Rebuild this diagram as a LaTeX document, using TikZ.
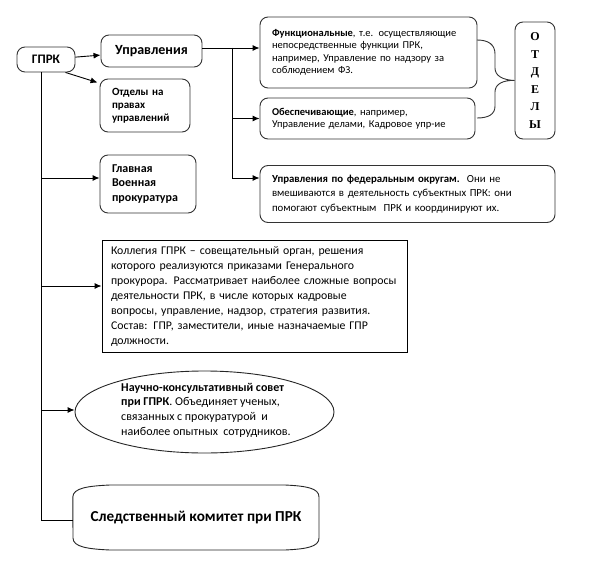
\documentclass[tikz,border=0pt]{standalone}
\usepackage{fontspec}
\setmainfont{Carlito}
\newfontfamily\serifbold{Liberation Serif}
\usetikzlibrary{shapes.geometric,arrows.meta}
\begin{document}
\begin{tikzpicture}[x=1pt,y=-1pt,
  box/.style={draw=black!80, rounded corners=8pt, line width=0.9pt, inner ysep=0pt, align=left},
  sqbox/.style={draw=black, line width=0.9pt, inner ysep=0pt, align=left},
  arr/.style={-{Latex[length=7pt,width=6pt]}, line width=0.9pt},
  ln/.style={line width=0.9pt},
  small/.style={font=\fontsize{10.5}{12.5}\selectfont},
  mid/.style={font=\fontsize{11.8}{15}\selectfont}]
\useasboundingbox[fill=white] (0,0) rectangle (602,583);

% top level
\node[box, minimum width=58pt, minimum height=25pt, inner xsep=0pt, align=center,
      font=\bfseries\fontsize{13}{14}\selectfont] (gprk) at (46,59.5) {ГПРК};
\node[box, minimum width=101pt, minimum height=32pt, inner xsep=0pt, align=center,
      font=\bfseries\fontsize{14}{15}\selectfont] (upr) at (151.5,51) {Управления};
\node[box, minimum width=86pt, minimum height=53pt, text width=66pt, inner xsep=12pt,
      font=\bfseries\fontsize{11}{13}\selectfont] (otd) at (145,105.5) {Отделы на\\правах\\управлений};

% right side
\node[box, minimum width=217pt, minimum height=71pt, text width=193pt, inner xsep=12pt, small] (funk) at (368.5,52.5)
  {\textbf{Функциональные}, т.е. осуществляющие\\непосредственные функции ПРК,\\например, Управление по надзору за\\соблюдением ФЗ.};
\node[box, minimum width=215pt, minimum height=41pt, text width=191pt, inner xsep=12pt, small] (obes) at (367.5,118.5)
  {\textbf{Обеспечивающие}, например,\\Управление делами, Кадровое упр-ие};
\node[box, minimum width=40pt, minimum height=117pt, inner xsep=0pt, align=center,
      font=\serifbold\bfseries\fontsize{12}{17.5}\selectfont] (otdely) at (535,80.5) {О\\Т\\Д\\Е\\Л\\Ы};
\node[box, minimum width=295pt, minimum height=57pt, text width=271pt, inner xsep=12pt,
      font=\fontsize{10.8}{14.5}\selectfont] (fed) at (407.5,194)
  {\textbf{Управления по федеральным округам.}\ \ Они не\\вмешиваются в деятельность субъектных ПРК: они\\помогают субъектным\ \ ПРК и координируют их.};

% left column
\node[box, minimum width=92pt, minimum height=58pt, text width=72pt, inner xsep=12pt,
      font=\bfseries\fontsize{12}{14.5}\selectfont] (gvp) at (148,184) {Главная\\Военная\\прокуратура};
\node[sqbox, minimum width=305pt, minimum height=112pt, text width=287pt, inner xsep=9pt, mid] (kol) at (254.5,296)
  {Коллегия ГПРК -- совещательный орган, решения\\которого реализуются приказами Генерального\\прокурора. Рассматривает наиболее сложные вопросы\\деятельности ПРК, в числе которых кадровые\\вопросы, управление, надзор, стратегия развития.\\Состав: ГПР, заместители, иные назначаемые ГПР\\должности.};
\node[ellipse, draw=black!85, line width=0.9pt, minimum width=259pt, minimum height=82pt, inner sep=0pt] (nks) at (204.5,412) {};
\node[align=left, inner sep=0pt, font=\fontsize{12}{14.7}\selectfont, anchor=west] (nkstext) at (121,410)
  {\textbf{Научно-консультативный совет}\\\textbf{при ГПРК}. Объединяет ученых,\\связанных с прокуратурой\ \ и\\наиболее опытных\ \ сотрудников.};
\node[minimum width=246pt, minimum height=65pt, inner sep=0pt, font=\bfseries\fontsize{15.2}{17}\selectfont] (sk) at (196,517.5)
  {Следственный комитет при ПРК};
\draw[black!85, line width=0.9pt]
  (sk.west |- 0,497) .. controls (73,488) and (88,486) .. (110,485) -- (285,485)
  .. controls (306,486) and (319,488) .. (319,497) -- (319,538)
  .. controls (319,547) and (306,549) .. (285,550) -- (110,550)
  .. controls (88,549) and (73,547) .. (73,538) -- cycle;

% brace
\draw[black!80, line width=0.9pt]
  (477,40) .. controls (489,40) and (495,45) .. (495,54) -- (495,68)
  .. controls (495,76) and (503,80) .. (otdely.west)
  .. controls (503,80) and (495,84) .. (495,92) -- (495,106)
  .. controls (495,114) and (489,118) .. (477,118);

% connectors
\draw[arr] (gprk) -- (upr);
\draw[arr] ([xshift=-10pt]gprk.south east) -- ([xshift=-2pt,yshift=-4pt]otd.north west);
\coordinate (j) at (232,48);
\draw[ln] ([yshift=3pt]upr.east) -- (j);
\draw[arr] (j) -- (j -| funk.west);
\draw[arr] (j) |- (obes.west);
\draw[arr] (j) |- ([yshift=16pt]fed.west);

\coordinate (t0) at ([xshift=-5pt]gprk.south);
\coordinate (t1) at (41,178);
\coordinate (t2) at (41,286);
\coordinate (t3) at (41,410);
\coordinate (t4) at (41,520);
\draw[ln] (t0) -- (t4);
\draw[arr] (t1) -- (t1 -| gvp.west);
\draw[arr] (t2) -- (t2 -| kol.west);
\draw[arr] (t3) -- (t3 -| nks.west);
\draw[ln] (t4) -- (t4 -| sk.west);
\end{tikzpicture}
\end{document}
